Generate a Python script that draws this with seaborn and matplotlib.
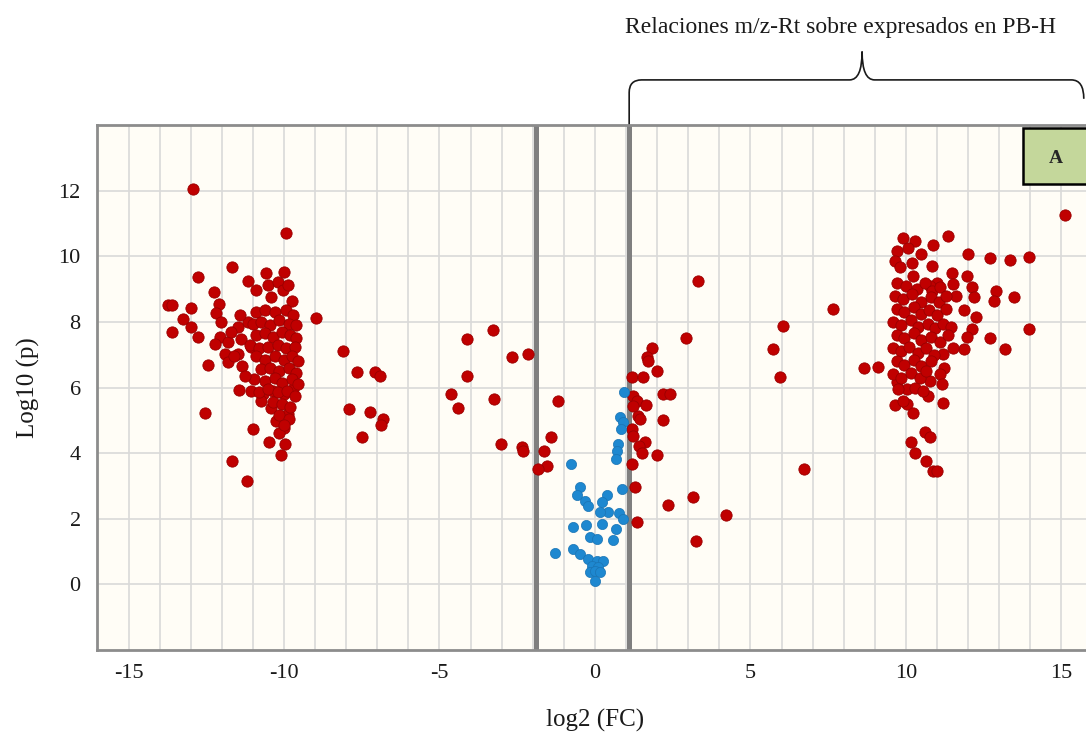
import matplotlib
matplotlib.use("Agg")
import matplotlib.pyplot as plt
import matplotlib.transforms as mtransforms
from matplotlib.path import Path
from matplotlib.patches import PathPatch, Rectangle
import pandas as pd
import seaborn as sns

# puntos rojos, grupo izquierdo (sobre expresados en el otro grupo)
izq_x = [-12.94, -9.92, -11.68, -12.76, -11.17, -10.58, -9.99, -10.90, -10.52, -10.20,
         -10.04, -10.42, -9.88, -9.74, -12.24, -12.10, -13.72, -13.60, -13.00, -12.18,
         -13.25, -12.04, -8.97, -12.98, -13.61, -12.77, -11.49, -11.17, -12.07, -12.23,
         -11.81, -11.38, -11.91, -11.81, -11.49, -11.06, -12.45, -8.10, -11.45, -11.06,
         -10.68, -10.36, -9.99, -9.72, -10.74, -10.42, -9.88, -7.90, -12.54, -10.26,
         -9.99, -10.15, -10.99, -10.47, -9.97, -10.10, -11.68, -11.20, -7.66, -7.07,
         -6.91, -7.23, -6.81, -6.89, -7.50,
         -10.90, -10.60, -10.30, -9.95, -9.70, -11.00, -10.75, -10.45, -10.15, -9.85,
         -9.60, -10.90, -10.60, -10.35, -10.05, -9.80, -9.60, -11.10, -10.80, -10.50,
         -10.20, -9.95, -9.65, -10.90, -10.60, -10.30, -10.00, -9.75, -9.55, -10.75,
         -10.45, -10.15, -9.85, -9.60, -10.95, -10.60, -10.30, -10.05, -9.75, -9.55,
         -10.80, -10.50, -10.20, -9.90, -9.65, -10.35, -10.05, -9.80, -10.15, -9.85,
         -10.00, -11.35, -11.60, -11.25, -11.70, -11.40]
izq_y = [12.04, 10.70, 9.66, 9.38, 9.25, 9.49, 9.52, 8.97, 9.13, 9.23,
         8.97, 8.77, 9.13, 8.64, 8.92, 8.54, 8.51, 8.51, 8.41, 8.26,
         8.10, 8.00, 8.13, 7.85, 7.68, 7.54, 7.85, 8.00, 7.54, 7.33,
         7.38, 7.49, 7.03, 6.77, 7.03, 7.23, 6.68, 7.10, 5.92, 5.90,
         5.79, 5.90, 5.79, 5.95, 5.59, 5.38, 5.18, 5.36, 5.22, 4.97,
         4.77, 4.62, 4.75, 4.33, 4.28, 3.94, 3.77, 3.16, 6.48, 6.46,
         6.34, 5.26, 5.04, 4.86, 4.48,
         8.30, 8.35, 8.30, 8.35, 8.20, 7.95, 8.00, 7.90, 8.05, 7.95,
         7.90, 7.60, 7.65, 7.55, 7.70, 7.60, 7.50, 7.30, 7.20, 7.25,
         7.30, 7.20, 7.25, 6.95, 6.85, 6.95, 6.85, 6.95, 6.80, 6.55,
         6.60, 6.50, 6.60, 6.45, 6.25, 6.20, 6.30, 6.15, 6.25, 6.10,
         5.85, 5.95, 5.85, 5.90, 5.75, 5.55, 5.50, 5.40, 5.15, 5.05,
         4.85, 6.65, 6.95, 6.35, 7.70, 8.20]

# puntos rojos centrales
centro_x = [-3.27, -4.11, -2.66, -2.16, -4.13, -4.64, -4.39, -3.24, -1.20, -3.03,
            -2.36, -2.30, -1.41, -1.63, -1.55, -1.82, 3.32, 2.93, 1.82, 1.66,
            1.71, 1.98, 1.18, 1.53, 2.20, 2.41, 1.23, 1.34, 1.23, 1.64,
            1.39, 1.45, 2.18, 1.18, 1.23, 1.61, 1.43, 1.50, 1.98, 1.20,
            1.29, 1.34, 3.14, 2.34, 4.21, 3.25, 5.72, 6.05, 5.95, 6.72,
            7.65]
centro_y = [7.75, 7.47, 6.92, 7.01, 6.34, 5.80, 5.39, 5.65, 5.58, 4.28,
            4.18, 4.07, 4.48, 4.07, 3.62, 3.52, 9.25, 7.52, 7.22, 6.92,
            6.81, 6.51, 6.31, 6.31, 5.80, 5.80, 5.75, 5.60, 5.44, 5.46,
            5.14, 5.04, 5.01, 4.73, 4.53, 4.35, 4.23, 4.00, 3.95, 3.67,
            2.96, 1.89, 2.65, 2.43, 2.12, 1.31, 7.17, 7.87, 6.32, 3.52,
            8.39]

# puntos rojos, grupo derecho (sobre expresados en PB-H)
der_x = [15.11, 11.36, 9.91, 10.29, 10.88, 9.70, 10.07, 10.48, 11.98, 12.70,
         13.35, 13.95, 9.65, 9.81, 10.18, 10.83, 11.47, 11.95, 10.24, 10.99,
         10.77, 12.11, 12.18, 12.91, 12.82, 13.47, 11.88, 12.25, 13.95, 12.71,
         13.19, 12.11, 11.96, 11.87, 8.65, 9.10, 11.20, 11.24, 11.08, 10.77,
         11.15, 9.70, 10.02, 10.72, 11.20, 9.65, 10.02, 10.24, 10.61, 10.77,
         10.16, 10.29, 10.66, 10.86, 11.01, 11.51, 11.62,
         9.70, 10.00, 10.35, 10.60, 10.85, 11.10, 9.65, 9.90, 10.20, 10.50,
         10.80, 11.05, 11.30, 9.70, 9.95, 10.25, 10.50, 10.75, 11.00, 11.30,
         9.60, 9.85, 10.15, 10.40, 10.70, 10.95, 11.20, 11.45, 9.70, 9.95,
         10.25, 10.50, 10.80, 11.10, 11.35, 9.60, 9.85, 10.10, 10.40, 10.65,
         10.90, 11.50, 9.70, 9.95, 10.25, 10.50, 10.80, 9.60, 9.85, 10.15,
         10.45, 10.65, 9.75, 10.30, 10.55, 9.90]
der_y = [11.27, 10.63, 10.57, 10.47, 10.34, 10.16, 10.26, 10.06, 10.08, 9.95,
         9.89, 9.98, 9.86, 9.66, 9.81, 9.71, 9.48, 9.41, 9.40, 9.20,
         9.10, 9.05, 8.76, 8.93, 8.64, 8.75, 8.35, 8.15, 7.79, 7.51,
         7.17, 7.78, 7.54, 7.16, 6.61, 6.63, 7.02, 6.61, 6.41, 6.20,
         6.10, 6.16, 5.95, 5.75, 5.53, 5.46, 5.49, 5.22, 4.63, 4.48,
         4.33, 4.02, 3.77, 3.47, 3.45, 9.15, 8.79,
         9.20, 9.10, 9.00, 9.20, 8.95, 9.05, 8.80, 8.70, 8.85, 8.60,
         8.75, 8.60, 8.80, 8.40, 8.30, 8.45, 8.25, 8.35, 8.20, 8.40,
         8.00, 7.90, 8.05, 7.85, 7.95, 7.80, 7.95, 7.85, 7.60, 7.50,
         7.65, 7.45, 7.55, 7.40, 7.60, 7.20, 7.10, 7.25, 7.05, 7.20,
         7.00, 7.20, 6.80, 6.70, 6.85, 6.65, 6.80, 6.40, 6.30, 6.45,
         6.30, 6.50, 5.95, 6.00, 5.90, 5.60]

# puntos azules (no significativos)
azul_x = [0.93, 0.80, 0.89, 0.84, 0.75, 0.70, 0.68, -0.78, -0.48, -0.59,
          -0.32, -0.22, 0.38, 0.22, 0.86, 0.43, 0.16, 0.78, 0.89, -0.70,
          -0.29, 0.22, 0.68, -0.16, 0.05, 0.59, -1.29, -0.70, -0.48, -0.22,
          0.05, 0.27, -0.11, 0.11, -0.16, 0.00, 0.16, 0.00]
azul_y = [5.87, 5.09, 4.94, 4.73, 4.28, 4.07, 3.82, 3.67, 2.96, 2.72,
          2.55, 2.40, 2.72, 2.50, 2.91, 2.20, 2.20, 2.17, 1.99, 1.74,
          1.81, 1.84, 1.69, 1.44, 1.39, 1.35, 0.96, 1.08, 0.93, 0.78,
          0.72, 0.72, 0.57, 0.52, 0.37, 0.42, 0.37, 0.09]

umbral_izq = -1.9
umbral_der = 1.1
x_ticks = [-15, -10, -5, 0, 5, 10, 15]
y_ticks = [0, 2, 4, 6, 8, 10, 12]

rojos = pd.DataFrame({"log2 (FC)": izq_x + centro_x + der_x,
                      "Log10 (p)": izq_y + centro_y + der_y})
azules = pd.DataFrame({"log2 (FC)": azul_x, "Log10 (p)": azul_y})

sns.set_style("whitegrid", {"axes.facecolor": "#FFFDF6", "grid.color": "#D9D9D9"})
plt.rcParams['font.family'] = ['Liberation Serif', 'DejaVu Serif']
plt.rcParams['axes.unicode_minus'] = False

fig = plt.figure(figsize=(10.86, 7.33), dpi=100)
ax = fig.add_axes([0.0897, 0.1132, 0.9163, 0.7162])

ax.axvline(umbral_izq, color="#7F7F7F", lw=3.6, zorder=2)
ax.axvline(umbral_der, color="#7F7F7F", lw=3.6, zorder=2)

sns.scatterplot(data=rojos, x="log2 (FC)", y="Log10 (p)", color="#C00000",
                edgecolor="#9A0000", linewidth=0.6, s=66, ax=ax, zorder=3)
sns.scatterplot(data=azules, x="log2 (FC)", y="Log10 (p)", color="#1E88D0",
                edgecolor="#1A74B4", linewidth=0.5, s=54, ax=ax, zorder=3)

ax.set_xlim(-16, 16)
ax.set_ylim(-2, 14)
ax.set_xticks(x_ticks)
ax.set_xticks(range(-16, 17), minor=True)
ax.set_yticks(y_ticks)
ax.grid(which="both", axis="x", color="#D9D9D9", lw=1.2)
ax.grid(which="major", axis="y", color="#D9D9D9", lw=1.2)
ax.tick_params(axis="both", which="both", direction="out", length=4, width=1.2,
               color="#8C8C8C", labelsize=16, labelcolor="#1A1A1A")
ax.tick_params(axis="y", pad=8)
ax.tick_params(axis="x", pad=6)

for lado in ["left", "bottom", "top"]:
    ax.spines[lado].set_color("#8C8C8C")
    ax.spines[lado].set_linewidth(2)
ax.spines["right"].set_visible(False)

ax.set_xlabel("log2 (FC)", fontsize=18, labelpad=19, color="#1A1A1A")
ax.set_ylabel("Log10 (p)", fontsize=18, labelpad=13, color="#1A1A1A")

# llave sobre la zona de sobre expresados
trans = mtransforms.blended_transform_factory(ax.transData, ax.transAxes)
centro = 8.59
fin = 15.72
verts = [(umbral_der, 1.0), (umbral_der, 1.062), (umbral_der, 1.086), (umbral_der + 0.4, 1.086),
         (centro - 0.4, 1.086), (centro, 1.086), (centro, 1.14),
         (centro, 1.086), (centro + 0.4, 1.086),
         (fin - 0.4, 1.086), (fin, 1.086), (fin, 1.05)]
codes = [Path.MOVETO, Path.LINETO, Path.CURVE3, Path.CURVE3,
         Path.LINETO, Path.CURVE3, Path.CURVE3,
         Path.CURVE3, Path.CURVE3,
         Path.LINETO, Path.CURVE3, Path.CURVE3]
ax.add_patch(PathPatch(Path(verts, codes), transform=trans, fill=False,
                       edgecolor="#1A1A1A", lw=1.2, clip_on=False))
ax.text(7.88, 1.185, "Relaciones m/z-Rt sobre expresados en PB-H", transform=trans,
        ha="center", va="center", fontsize=17, color="#1A1A1A")

# recuadro "A"
ax.add_patch(Rectangle((0.930, 0.887), 0.08, 0.107, transform=ax.transAxes,
                       facecolor="#C4D79B", edgecolor="black", lw=1.8,
                       clip_on=False, zorder=5))
ax.text(0.963, 0.937, "A", transform=ax.transAxes, ha="center", va="center",
        fontsize=14, fontweight="bold", zorder=6)

fig.savefig("out.png", dpi=100)
